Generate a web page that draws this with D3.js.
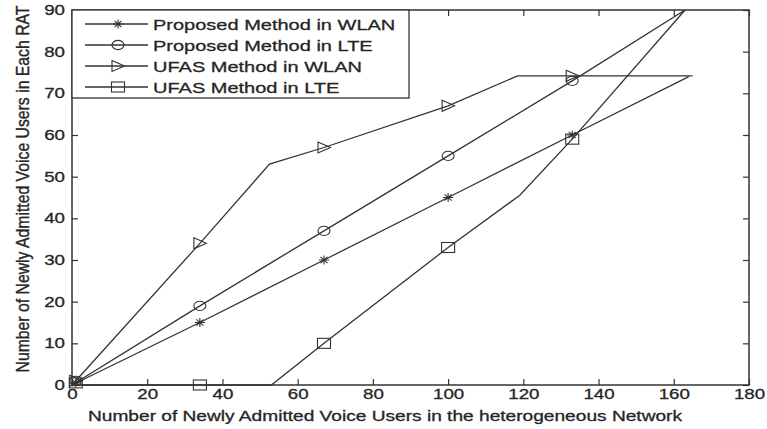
<!DOCTYPE html>
<html><head><meta charset="utf-8">
<script src="https://d3js.org/d3.v7.min.js"></script>
<style>body{margin:0;background:#fff}svg{display:block}text{font-family:"Liberation Sans",Arial,sans-serif;fill:#262626;stroke:#262626;stroke-width:0.3}</style>
</head><body><svg id="c" width="767" height="429"></svg>
<script>
const xTicks = [0,20,40,60,80,100,120,140,160,180];
const yTicks = [0,10,20,30,40,50,60,70,80,90];
const seriesNames = ["Proposed Method in WLAN","Proposed Method in LTE","UFAS Method in WLAN","UFAS Method in LTE"];
const propWlanX = [0, 34, 67, 100, 133, 164];
const propWlanY = [0, 15, 30, 45, 60, 74];
const propLteX = [0, 34, 67, 100, 133, 163];
const propLteY = [0, 19, 37, 55, 73, 90];
const ufasWlanX = [0, 34, 52.5, 67, 100, 118.5, 133, 165];
const ufasWlanY = [0, 34, 53, 57, 67, 74.2, 74.2, 74.2];
const ufasLteX = [0, 53, 67, 100, 119, 133, 163];
const ufasLteY = [0, 0, 10, 33, 45.5, 59, 90];
const markerX = [1, 34, 67, 100, 133];
const propWlanMarkY = [0.5, 15, 30, 45, 60];
const propLteMarkY = [1, 19, 37, 55, 73];
const ufasWlanMarkY = [1, 34, 57, 67, 74.2];
const ufasLteMarkY = [0.5, 0, 10, 33, 59];

const SX = 1.29; // horizontal stretch of the source image
const svg = d3.select("#c");
const L = 72, R = 749, T = 10, B = 385;
const x = d3.scaleLinear().domain([0,180]).range([L,R]);
const y = d3.scaleLinear().domain([0,90]).range([B,T]);
const ink = "#333";

function stretch(sel){ sel.each(function(){ const n=this; const w=n.getComputedTextLength(); n.setAttribute("textLength", w*SX); n.setAttribute("lengthAdjust","spacingAndGlyphs"); }); }

// axes (ticks inward) on all four sides
const gB = svg.append("g").attr("transform",`translate(0,${B})`).call(d3.axisBottom(x).tickValues(xTicks).tickSize(-6).tickPadding(4));
const gT = svg.append("g").attr("transform",`translate(0,${T})`).call(d3.axisTop(x).tickValues(xTicks).tickSize(-6).tickFormat(""));
const gL = svg.append("g").attr("transform",`translate(${L},0)`).call(d3.axisLeft(y).tickValues(yTicks).tickSize(-6).tickPadding(7));
const gR = svg.append("g").attr("transform",`translate(${R},0)`).call(d3.axisRight(y).tickValues(yTicks).tickSize(-6).tickFormat(""));
[gB,gT,gL,gR].forEach(g=>{ g.select(".domain").remove(); g.selectAll(".tick line").attr("stroke",ink).attr("stroke-width",1.2); });
svg.selectAll(".tick text").attr("font-size",14.5).attr("fill","#262626").attr("font-family","Liberation Sans, Arial, sans-serif");
gB.selectAll(".tick text").attr("dy","0.71em");
svg.selectAll(".tick text").call(stretch);
gB.selectAll(".tick text").each(function(){ const w=+this.getAttribute("textLength"); this.setAttribute("x",-w/2); this.setAttribute("text-anchor","start"); });
gL.selectAll(".tick text").each(function(){ const w=+this.getAttribute("textLength"); this.setAttribute("x",-7-w); this.setAttribute("text-anchor","start"); });

const lineGen = d3.line().x(d=>x(d[0])).y(d=>y(d[1]));
const seriesLines = [[propWlanX,propWlanY],[propLteX,propLteY],[ufasWlanX,ufasWlanY],[ufasLteX,ufasLteY]];
seriesLines.forEach(([xs,ys])=>{
  svg.append("path").datum(xs.map((v,i)=>[v,ys[i]])).attr("d",lineGen).attr("fill","none").attr("stroke","#333").attr("stroke-width",1.3);
});

function marker(g, type, cx, cy){
  const s = g.append("g").attr("transform",`translate(${cx},${cy})`).attr("fill","none").attr("stroke","#333").attr("stroke-width",1.1);
  if(type==="star"){
    s.append("path").attr("d","M-5,0H5M0,-4.5V4.5M-3.5,-3.2L3.5,3.2M-3.5,3.2L3.5,-3.2");
  } else if(type==="circle"){
    s.append("ellipse").attr("rx",6).attr("ry",4.6);
  } else if(type==="tri"){
    s.append("path").attr("d","M-6,-5.5L6.5,0L-6,5.5Z");
  } else {
    s.append("rect").attr("x",-6.5).attr("y",-5).attr("width",13).attr("height",10);
  }
}
const types = ["star","circle","tri","square"];
const markYs = [propWlanMarkY, propLteMarkY, ufasWlanMarkY, ufasLteMarkY];
markYs.forEach((ys,k)=>{ markerX.forEach((mx,i)=>marker(svg, types[k], x(mx), y(ys[i]))); });

// frame
svg.append("rect").attr("x",L).attr("y",T).attr("width",R-L).attr("height",B-T).attr("fill","none").attr("stroke",ink).attr("stroke-width",1.5);

// legend
const lg = svg.append("g");
lg.append("rect").attr("x",L).attr("y",T).attr("width",409-L).attr("height",98-T).attr("fill","#fff").attr("stroke",ink).attr("stroke-width",1.3);
const rowY = [24,45,66,87];
seriesNames.forEach((nm,k)=>{
  lg.append("line").attr("x1",85).attr("x2",148).attr("y1",rowY[k]).attr("y2",rowY[k]).attr("stroke","#333").attr("stroke-width",1.3);
  marker(lg, types[k], 118, rowY[k]);
  lg.append("text").attr("x",153).attr("y",rowY[k]).attr("dy","0.36em").attr("font-size",15.5).text(nm);
});
lg.selectAll("text").call(stretch);

// axis titles
const xt = svg.append("text").attr("x",385).attr("y",416).attr("dy","0.36em").attr("text-anchor","middle").attr("font-size",14.5)
  .text("Number of Newly Admitted Voice Users in the heterogeneous Network");
xt.attr("textLength",594).attr("lengthAdjust","spacingAndGlyphs");
const yt = svg.append("text").attr("transform",`translate(22,189) scale(${SX},1) rotate(-90)`).attr("dy","0.36em").attr("text-anchor","middle").attr("font-size",14).attr("stroke-width",0.15)
  .text("Number of Newly Admitted Voice Users in Each RAT");
yt.attr("textLength",367).attr("lengthAdjust","spacingAndGlyphs");
</script></body></html>
